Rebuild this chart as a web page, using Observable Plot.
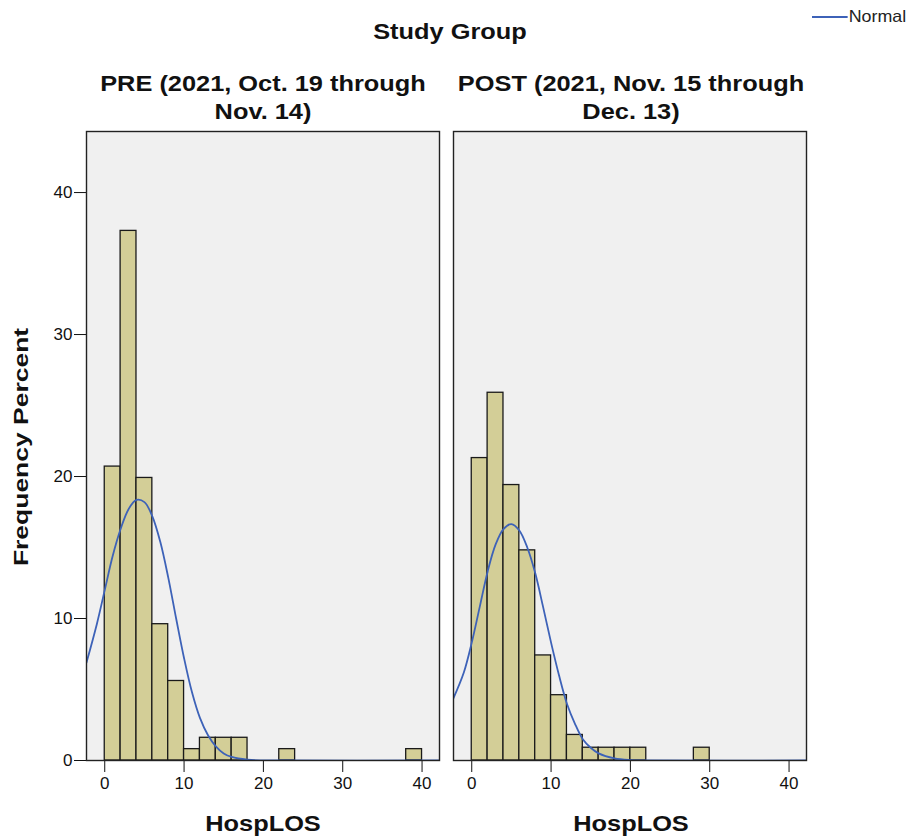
<!DOCTYPE html>
<html>
<head>
<meta charset="utf-8">
<script src="https://cdn.jsdelivr.net/npm/d3@7"></script>
<script src="https://cdn.jsdelivr.net/npm/@observablehq/plot@0.6"></script>
<style>
  html, body { margin: 0; padding: 0; background: #ffffff; }
  #wrap { position: relative; width: 909px; height: 839px; overflow: hidden; font-family: "Liberation Sans", Arial, sans-serif; color: #111; }
  #wrap svg { position: absolute; left: 0; top: 0; }
  .t { position: absolute; white-space: nowrap; font-weight: bold; font-size: 21.5px; line-height: 28px; text-align: center; transform: translateX(-50%) scaleX(1.18); }
  #ylab { position: absolute; white-space: nowrap; font-weight: bold; font-size: 21px; line-height: 21px; transform: translate(-50%, -50%) rotate(-90deg) scaleX(1.26); }
  #legend { position: absolute; left: 812px; top: 6px; font-size: 16.5px; line-height: 20px; color: #222; white-space: nowrap; transform-origin: 0 50%; transform: scaleX(1.08); }
  #legend span.sw { display: inline-block; width: 33px; height: 0; border-top: 2px solid #3d62b8; vertical-align: middle; margin-right: 1px; position: relative; top: -1px; }
</style>
</head>
<body>
<div id="wrap">
  <div class="t" style="left:450px; top:17.5px;">Study Group</div>
  <div class="t" style="left:263px; top:69.5px;">PRE (2021, Oct. 19 through<br>Nov. 14)</div>
  <div class="t" style="left:631px; top:69.5px;">POST (2021, Nov. 15 through<br>Dec. 13)</div>
  <div class="t" style="left:263px; top:809.5px;">HospLOS</div>
  <div class="t" style="left:631px; top:809.5px;">HospLOS</div>
  <div id="ylab" style="left:20px; top:447px;">Frequency Percent</div>
  <div id="legend"><span class="sw"></span>Normal</div>
</div>
<script>
// ---- data ----
const groups = ["PRE", "POST"];
const binWidth = 2;

const preBinStart = [0, 2, 4, 6, 8, 10, 12, 14, 16, 22, 38];
const prePercent  = [20.7, 37.3, 19.9, 9.6, 5.6, 0.8, 1.6, 1.6, 1.6, 0.8, 0.8];

const postBinStart = [0, 2, 4, 6, 8, 10, 12, 14, 16, 18, 20, 28];
const postPercent  = [21.3, 25.9, 19.4, 14.8, 7.4, 4.6, 1.8, 0.9, 0.9, 0.9, 0.9, 0.9];

// normal curve, points
const normalX    = [-2.3, -1, 0, 1, 2, 3, 4, 5, 6, 7, 8, 9, 10, 11, 12, 13, 14, 15, 16, 18, 20, 22, 42.2];
const preNormal  = [6.9, 9.6, 12.0, 14.4, 16.3, 17.7, 18.35, 18.2, 17.2, 15.4, 12.9, 10.0, 7.2, 4.8, 3.0, 1.8, 1.0, 0.5, 0.25, 0.06, 0.01, 0, 0];
const postNormal = [4.4, 6.2, 8.3, 10.8, 13.3, 15.2, 16.3, 16.65, 16.2, 15.0, 13.2, 10.8, 8.3, 6.0, 4.0, 2.6, 1.5, 0.9, 0.5, 0.15, 0.03, 0, 0];

const xTicks = [0, 10, 20, 30, 40];
const yTicks = [0, 10, 20, 30, 40];

// ---- tables built from the arrays ----
const bars = [
  ...preBinStart.map((s, i) => ({group: groups[0], x1: s, x2: s + binWidth, pct: prePercent[i]})),
  ...postBinStart.map((s, i) => ({group: groups[1], x1: s, x2: s + binWidth, pct: postPercent[i]}))
];
const curve = [
  ...normalX.map((x, i) => ({group: groups[0], x, y: preNormal[i]})),
  ...normalX.map((x, i) => ({group: groups[1], x, y: postNormal[i]}))
];

const chart = Plot.plot({
  width: 909,
  height: 839,
  marginLeft: 86,
  marginRight: 102,
  marginTop: 131,
  marginBottom: 79,
  style: {fontFamily: "Liberation Sans, Arial, sans-serif", fontSize: "17px", color: "#111", background: "transparent", overflow: "visible"},
  fx: {domain: groups, axis: null, paddingInner: 0.038, paddingOuter: 0},
  x: {domain: [-2.3, 42.2], ticks: xTicks, tickSize: 12, tickPadding: 4, label: null},
  y: {domain: [0, 44.3], ticks: yTicks, tickSize: 12, tickPadding: 2, label: null},
  marks: [
    Plot.frame({fill: "#f0f0f0", stroke: null}),
    Plot.rectY(bars, {fx: "group", x1: "x1", x2: "x2", y: "pct", fill: "#d3ce97", stroke: "#1a1a1a", strokeWidth: 1.3}),
    Plot.line(curve, {fx: "group", x: "x", y: "y", stroke: "#3d62b8", strokeWidth: 1.8, curve: "catmull-rom", clip: true}),
    Plot.frame({stroke: "#222", strokeWidth: 1.4})
  ]
});
document.getElementById("wrap").prepend(chart);
</script>
</body>
</html>
